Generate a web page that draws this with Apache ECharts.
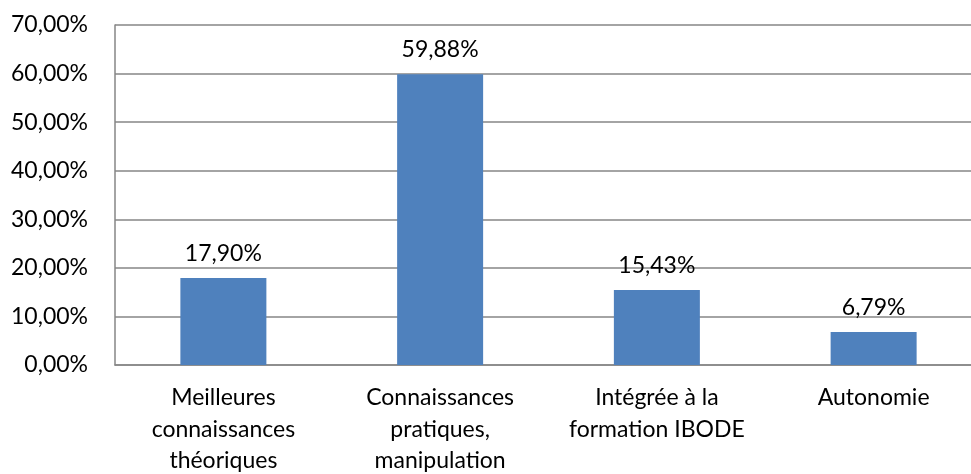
<!DOCTYPE html>
<html>
<head>
<meta charset="utf-8">
<script src="https://cdn.jsdelivr.net/npm/echarts@6/dist/echarts.min.js"></script>
<style>
html,body{margin:0;padding:0;background:#fff;}
#chart{width:971px;height:474px;}
</style>
</head>
<body>
<div id="chart"></div>
<script>
// categories et valeurs (%)
var categories = ['Meilleures\nconnaissances\nthéoriques', 'Connaissances\npratiques,\nmanipulation', 'Intégrée à la\nformation IBODE', 'Autonomie'];
var values = [17.90, 59.88, 15.43, 6.79];
var yTicks = [0, 10, 20, 30, 40, 50, 60, 70];

var fmt = function (v) { return v.toFixed(2).replace('.', ',') + '%'; };

var chart = echarts.init(document.getElementById('chart'));
var option = {
    animation: false,
    textStyle: { fontFamily: 'Lato', color: '#000' },
    grid: { left: 115, top: 25, width: 867, height: 340, containLabel: false, outerBoundsMode: 'none' },
    xAxis: {
        type: 'category',
        data: categories,
        axisLine: { lineStyle: { color: '#868686', width: 1.5 } },
        axisTick: { show: false },
        axisLabel: { color: '#000', fontSize: 23, lineHeight: 31.5, margin: 17, interval: 0 }
    },
    yAxis: {
        type: 'value',
        min: yTicks[0],
        max: yTicks[yTicks.length - 1],
        interval: 10,
        axisLine: { show: true, lineStyle: { color: '#868686', width: 1.5 } },
        axisTick: { show: false },
        splitLine: { lineStyle: { color: '#868686', width: 1.5 } },
        axisLabel: { color: '#000', fontSize: 23, margin: 27, formatter: fmt }
    },
    series: [{
        type: 'bar',
        data: values,
        barWidth: 86,
        itemStyle: { color: '#4f81bd' },
        label: {
            show: true,
            position: 'top',
            distance: 13,
            color: '#000',
            fontSize: 23,
            formatter: function (p) { return fmt(p.value); }
        }
    }]
};
chart.setOption(option);
</script>
</body>
</html>
